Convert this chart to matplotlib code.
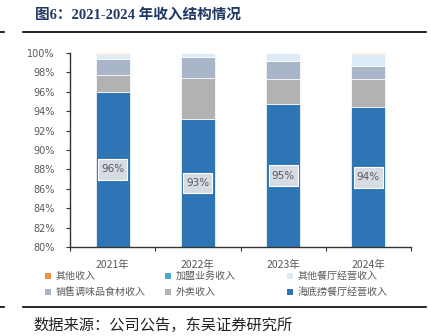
import matplotlib.pyplot as plt
import numpy as np
from matplotlib.lines import Line2D
from matplotlib.patches import Rectangle

plt.rcParams['font.family'] = ['Noto Sans CJK SC', 'DejaVu Sans']

years = ['2021年', '2022年', '2023年', '2024年']
# revenue shares, % (bottom to top)
haidilao = [96.0, 93.2, 94.7, 94.4]
delivery = [1.7, 4.2, 2.6, 2.9]
condiments = [1.7, 2.2, 1.9, 1.4]
other_restaurants = [0.45, 0.35, 0.8, 1.2]
franchise = [0.0, 0.0, 0.0, 0.03]
other = [0.15, 0.05, 0.0, 0.07]

series = [
    ('海底捞餐厅经营收入', haidilao, '#2E75B6'),
    ('外卖收入', delivery, '#B2B2B2'),
    ('销售调味品食材收入', condiments, '#A9B5C9'),
    ('其他餐厅经营收入', other_restaurants, '#DDEBF7'),
    ('加盟业务收入', franchise, '#4BACC6'),
    ('其他收入', other, '#F4913F'),
]

W, H = 430, 336
fig = plt.figure(figsize=(W / 100, H / 100), dpi=100)
ax = fig.add_axes([70 / W, 1 - 247 / H, 341 / W, 194 / H])

x = np.arange(len(years))
bottom = np.zeros(len(years))
for name, vals, color in series:
    ax.bar(x, vals, bottom=bottom, width=0.4, color=color,
           edgecolor='white', linewidth=0.5)
    bottom += np.array(vals)

ymin, ymax = 80, 100
ax.set_ylim(ymin, ymax)
ax.set_xlim(-0.5, len(years) - 0.5)

# value labels centred on the visible part of the main segment
box_w, box_h = 0.34, 2.15
for xi, v in zip(x, haidilao):
    yc = (ymin + v) / 2
    ax.add_patch(Rectangle((xi - box_w / 2, yc - box_h / 2), box_w, box_h,
                           fc='#D6DCE4', ec='white', lw=0.8, zorder=3))
    ax.text(xi, yc, f'{v:.0f}%', ha='center', va='center', zorder=4,
            fontsize=7.5, color='#595959', family='DejaVu Sans')

ax.set_yticks(np.arange(80, 101, 2))
ax.set_yticklabels([f'{t}%' for t in range(80, 101, 2)], family='DejaVu Sans')
ax.tick_params(axis='y', labelsize=7, labelcolor='#595959', color='#333333',
               length=3, width=0.8, direction='out', pad=8)
ax.set_xticks(np.arange(-0.5, len(years)))
ax.set_xticklabels([])
ax.set_xticks(x, minor=True)
ax.set_xticklabels(years, minor=True)
ax.tick_params(axis='x', which='major', length=3, width=0.8, color='#333333')
ax.tick_params(axis='x', which='minor', length=0, labelsize=7.5,
               labelcolor='#595959', pad=9)
for s in ['top', 'right']:
    ax.spines[s].set_visible(False)
for s in ['left', 'bottom']:
    ax.spines[s].set_color('#333333')
    ax.spines[s].set_linewidth(1.0)

# legend, laid out row by row in three columns
legend_rows = [[5, 4, 3], [2, 1, 0]]
col_x = [48, 168, 290]
row_y = [276, 292]
for r, row in enumerate(legend_rows):
    for c, idx in enumerate(row):
        name, _, color = series[idx]
        fig.add_artist(Rectangle(((col_x[c] - 3) / W, 1 - (row_y[r] + 3) / H),
                                 6 / W, 6 / H, transform=fig.transFigure,
                                 fc=color, ec='none'))
        fig.text((col_x[c] + 8) / W, 1 - row_y[r] / H, name, fontsize=7.2,
                 color='#595959', ha='left', va='center')

# title, rules and source line
fig.text(35 / W, 1 - 15 / H, '图6：2021-2024 年收入结构情况', fontsize=10.5,
         fontweight='bold', color='#1F3864', ha='left', va='center',
         family=['Liberation Serif', 'Noto Sans CJK SC'])
for yy in [31.5, 307]:
    fig.add_artist(Line2D([23 / W, 426 / W], [1 - yy / H] * 2, color='black', lw=1.2))
    fig.add_artist(Line2D([0, 4 / W], [1 - yy / H] * 2, color='black', lw=1.2))
fig.text(33 / W, 1 - 325 / H, '数据来源：公司公告，东吴证券研究所', fontsize=11,
         color='#222222', ha='left', va='center')

fig.savefig('out.png', dpi=100)
